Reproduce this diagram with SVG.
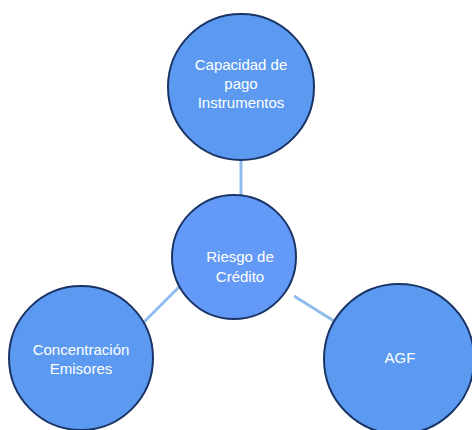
<svg xmlns="http://www.w3.org/2000/svg" width="472" height="430" viewBox="0 0 472 430">
<style>
.n{fill:#5B9AF0;stroke:#1B3466;stroke-width:2}
.c{fill:#6399F7}
.t{fill:#FFFFFF;font-family:"Liberation Sans","Open Sans",sans-serif;font-size:15px;text-anchor:middle}
.e{stroke:#8FBCEB;stroke-width:3;fill:none}
</style>
<rect width="472" height="430" fill="#FFFFFF"/>
<g id="connectors">
<line class="e" x1="241" y1="160" x2="241" y2="196"/>
<line class="e" x1="180" y1="286" x2="144" y2="322"/>
<line class="e" x1="294" y1="296" x2="334" y2="321"/>
</g>
<g id="top">
<circle class="n" cx="241" cy="87" r="73"/>
<text class="t" x="241" y="70">Capacidad de</text>
<text class="t" x="241" y="89">pago</text>
<text class="t" x="241" y="108">Instrumentos</text>
</g>
<g id="center">
<circle class="n c" cx="234" cy="257" r="62"/>
<text class="t" x="240" y="262">Riesgo de</text>
<text class="t" x="240" y="282">Crédito</text>
</g>
<g id="left">
<circle class="n" cx="81" cy="358" r="72"/>
<text class="t" x="81" y="355">Concentración</text>
<text class="t" x="81" y="374">Emisores</text>
</g>
<g id="right">
<circle class="n" cx="399" cy="359" r="75"/>
<text class="t" x="400" y="363">AGF</text>
</g>
</svg>
